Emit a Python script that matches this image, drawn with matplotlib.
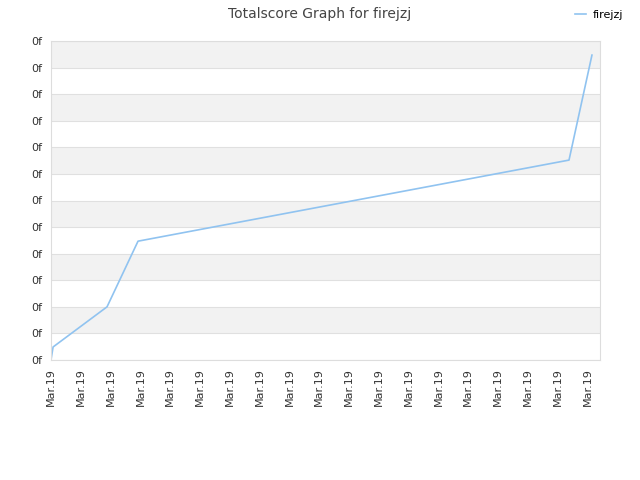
from matplotlib import pyplot as plt
import numpy as np

# data (x in tick units, y in grid units)
x_vals = [0.0, 0.07, 1.88, 2.92, 17.38, 18.15]
y_vals = [0.0, 0.49, 2.0, 4.47, 7.52, 11.47]
x_labels = ['Mar.19'] * 19
y_labels = ['0f'] * 13

fig = plt.figure(figsize=(6.4, 4.8), dpi=100)
ax = fig.add_axes([51 / 640, 120 / 480, 549 / 640, 319 / 480])

# alternating bands
for i in range(12):
    if i % 2 == 1:
        ax.axhspan(i, i + 1, color='#f2f2f2', zorder=0, lw=0)
ax.set_yticks(range(13))
ax.set_yticklabels(y_labels)
ax.set_xticks(range(19))
ax.set_xticklabels(x_labels, rotation=90)
ax.set_xlim(0, 18.42)
ax.set_ylim(0, 12)
ax.grid(axis='y', color='#e0e0e0', lw=0.8)
ax.set_axisbelow(True)
ax.tick_params(length=0, labelsize=8, colors='#333333', pad=6)
for s in ax.spines.values():
    s.set_color('#dddddd')

ax.plot(x_vals, y_vals, color='#90c3f0', lw=1.2, label='firejzj')

fig.suptitle('Totalscore Graph for firejzj', x=0.5, y=0.985, fontsize=10, color='#444444')
fig.legend(loc='upper right', bbox_to_anchor=(0.99, 1.0), frameon=False, fontsize=8,
           handlelength=1.0, handletextpad=0.6)

fig.savefig('out.png')
